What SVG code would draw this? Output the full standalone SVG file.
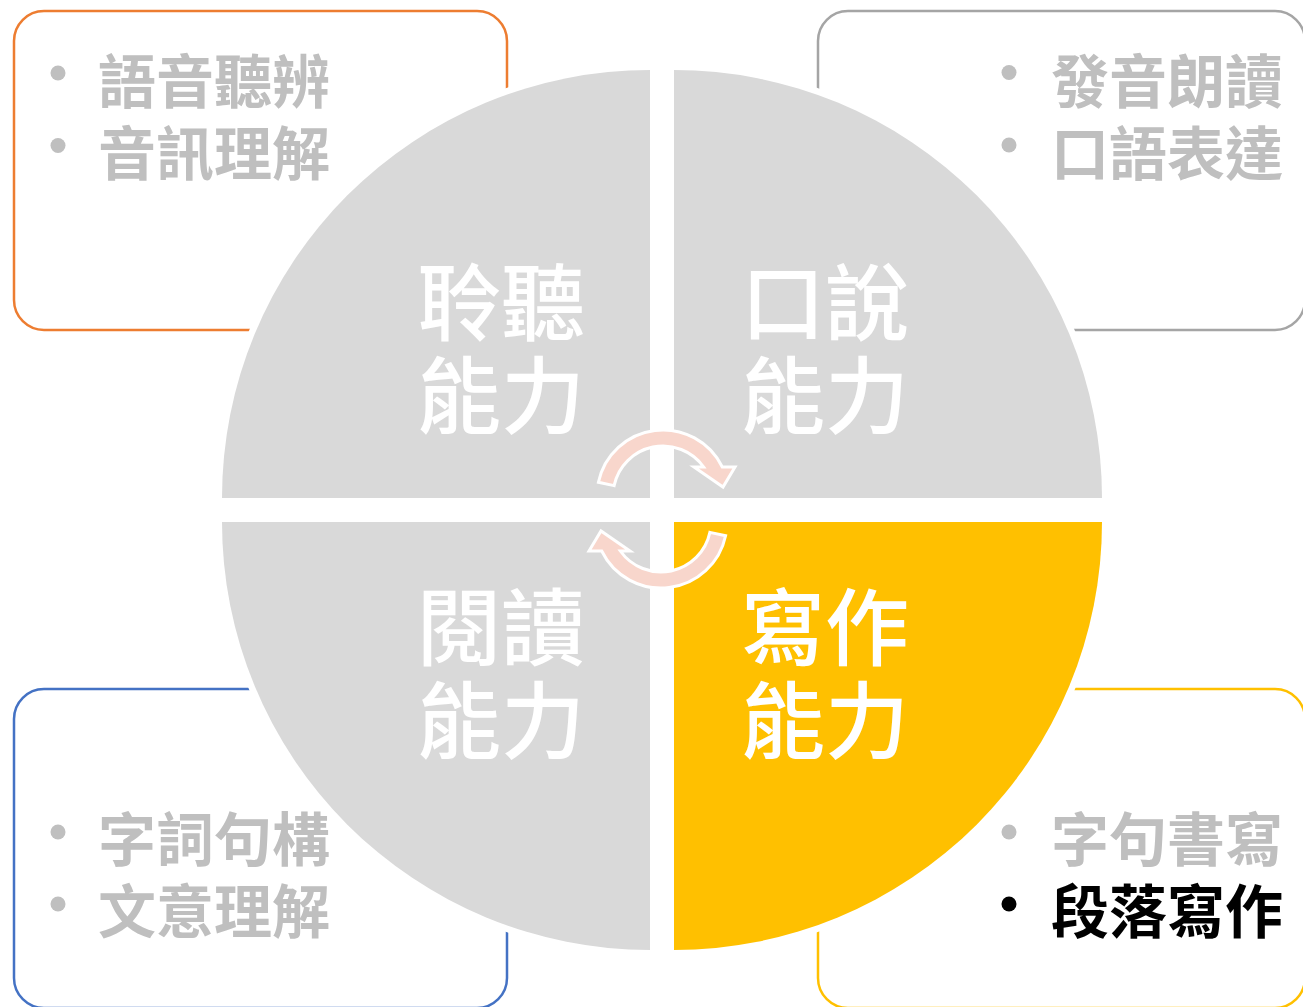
<svg xmlns="http://www.w3.org/2000/svg" width="1303" height="1007" viewBox="0 0 1303 1007">
<style>
.box{fill:#FFFFFF;stroke-width:2.5}
.quad{stroke:#FFFFFF;stroke-width:13;paint-order:stroke;stroke-linejoin:miter}
.lbl{font-family:"Noto Sans CJK TC","Noto Sans CJK SC",sans-serif;font-size:84px;font-weight:500;fill:#FFFFFF}
.item{font-family:"Noto Sans CJK TC","Noto Sans CJK SC",sans-serif;font-size:58px;font-weight:700;fill:#BFBFBF}
.dot{fill:#BFBFBF}
.arrow{fill:#F8D6CC;stroke:#FFFFFF;stroke-width:3;stroke-linejoin:miter}
</style>
<rect width="1303" height="1007" fill="#FFFFFF"/>

<g id="box-listening">
<rect class="box" x="14" y="11" width="493" height="319" rx="30" stroke="#ED7D31"/>
<circle class="dot" cx="58" cy="73" r="7.5"/>
<circle class="dot" cx="58" cy="145.5" r="7.5"/>
<text class="item" x="98" y="103">語音聽辨</text>
<text class="item" x="98" y="175">音訊理解</text>
</g>

<g id="box-speaking">
<rect class="box" x="818" y="11" width="487" height="319" rx="30" stroke="#A5A5A5"/>
<circle class="dot" cx="1009" cy="72.5" r="7.5"/>
<circle class="dot" cx="1009" cy="145" r="7.5"/>
<text class="item" x="1051" y="103">發音朗讀</text>
<text class="item" x="1051" y="175">口語表達</text>
</g>

<g id="box-reading">
<rect class="box" x="14" y="689" width="493" height="319" rx="30" stroke="#4472C4"/>
<circle class="dot" cx="58" cy="832" r="7.5"/>
<circle class="dot" cx="58" cy="904" r="7.5"/>
<text class="item" x="98" y="861">字詞句構</text>
<text class="item" x="98" y="933">文意理解</text>
</g>

<g id="box-writing">
<rect class="box" x="818" y="689" width="487" height="319" rx="30" stroke="#FFC000"/>
<circle class="dot" cx="1009" cy="832" r="7.5"/>
<circle cx="1009" cy="904" r="7.5" fill="#000000"/>
<text class="item" x="1051" y="861">字句書寫</text>
<text class="item" x="1051" y="933" style="fill:#000000">段落寫作</text>
</g>

<g id="quad-listening">
<path class="quad" d="M650,498 L222,498 A428,428 0 0 1 650,70 Z" fill="#D9D9D9"/>
<text class="lbl" x="417" y="334">聆聽<tspan x="417" dy="93">能力</tspan></text>
</g>

<g id="quad-speaking">
<path class="quad" d="M674,498 L674,70 A428,428 0 0 1 1102,498 Z" fill="#D9D9D9"/>
<text class="lbl" x="741" y="334">口說<tspan x="741" dy="93">能力</tspan></text>
</g>

<g id="quad-reading">
<path class="quad" d="M650,522 L650,950 A428,428 0 0 1 222,522 Z" fill="#D9D9D9"/>
<text class="lbl" x="417" y="659">閱讀<tspan x="417" dy="93">能力</tspan></text>
</g>

<g id="quad-writing">
<path class="quad" d="M674,522 L1102,522 A428,428 0 0 1 674,950 Z" fill="#FFC000"/>
<text class="lbl" x="741" y="659">寫作<tspan x="741" dy="93">能力</tspan></text>
</g>

<g id="connectors">
<path id="cycle-top" class="arrow" d="M614.1,485.6 L598.4,482.3 A66,66 0 0 1 722.3,467 L735,467 L723,487 L694,467 L703.7,467 A50,50 0 0 0 614.1,485.6 Z"/>
<path id="cycle-bottom" class="arrow" transform="rotate(180 662 509)" d="M614.1,485.6 L598.4,482.3 A66,66 0 0 1 722.3,467 L735,467 L723,487 L694,467 L703.7,467 A50,50 0 0 0 614.1,485.6 Z"/>
</g>
</svg>
